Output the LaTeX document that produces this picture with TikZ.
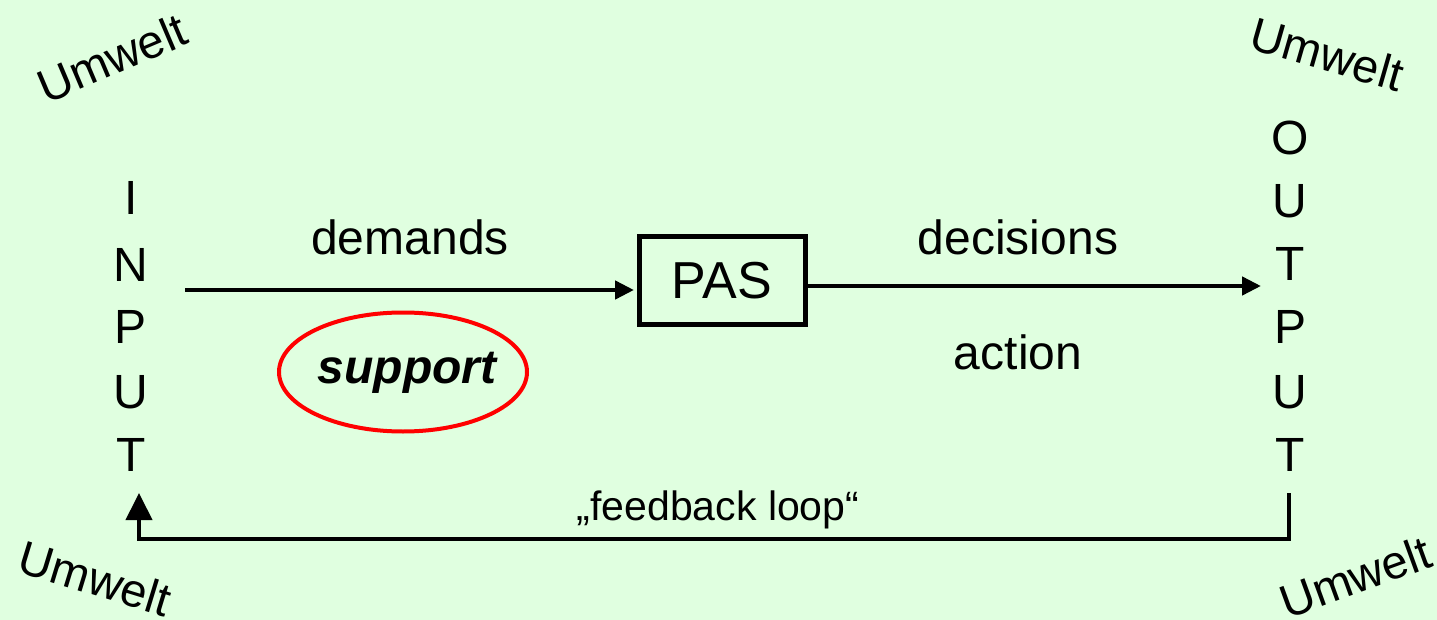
\documentclass[tikz,border=0pt]{standalone}
\usepackage{fontspec}
\setmainfont{Liberation Sans}
\usetikzlibrary{arrows.meta,shapes.geometric}
\definecolor{bg}{RGB}{224,255,224}
\begin{document}
\begin{tikzpicture}[x=1pt,y=-1pt,
  lbl/.style={font=\fontsize{48}{58}\selectfont, inner sep=0pt, anchor=base},
  umw/.style={font=\fontsize{47}{56}\selectfont, inner sep=0pt, anchor=center},
  arr/.style={line width=4.5pt, -{Triangle[length=19pt,width=18pt]}},
  fb/.style={line width=4pt, line join=miter, -{Triangle[length=27pt,width=26pt]}},
  box/.style={draw, line width=5pt, minimum width=166pt, minimum height=87pt, inner sep=0pt}]
\fill[bg] (0,0) rectangle (1437,620);
\useasboundingbox (0,0) rectangle (1437,620);

% INPUT letters
\foreach \l/\y [count=\i] in {I/215,N/281,P/343,U/408,T/471}
  \node[lbl] (in\i) at (131,\y) {\l};
% OUTPUT letters
\foreach \l/\y [count=\i] in {O/155,U/218,T/280,P/343,U/408,T/471}
  \node[lbl] (out\i) at (1290,\y) {\l};

% PAS box
\node[box] (pas) at (722,280.5) {\fontsize{52}{62}\selectfont PAS};

% arrows
\coordinate (dstart) at (185,290);
\draw[arr] (dstart) -- ([xshift=-2.5pt]dstart -| pas.west);
\coordinate (dend) at (1261,286);
\draw[arr] (pas.east |- dend) -- (dend);

% labels
\node[lbl] (demands) at (410,255) {demands};
\node[lbl] (decisions) at (1018,255) {decisions};
\node[lbl] (action) at (1018,369) {action};

% support
\node[ellipse, draw=red, line width=4pt, minimum width=248pt, minimum height=119pt, inner sep=0pt] (ell) at (403,372) {};
\node[lbl] (support) at (407,383) {\bfseries\itshape support};

% feedback loop
\coordinate (fbs) at (1289,493);
\coordinate (fbe) at (139,493);
\coordinate (fbc) at (714,539);
\draw[fb] (fbs) -- (fbs |- fbc) -- (fbe |- fbc) -- (fbe);
\node[lbl, font=\fontsize{41}{50}\selectfont] (fbl) at (718,520) {„feedback loop“};

% Umwelt
\node[umw, rotate=23] (u1) at (112,58) {Umwelt};
\node[umw, rotate=-16] (u2) at (1327,54) {Umwelt};
\node[umw, rotate=-17] (u3) at (95,578) {Umwelt};
\node[umw, rotate=20] (u4) at (1355,577) {Umwelt};
\end{tikzpicture}
\end{document}
